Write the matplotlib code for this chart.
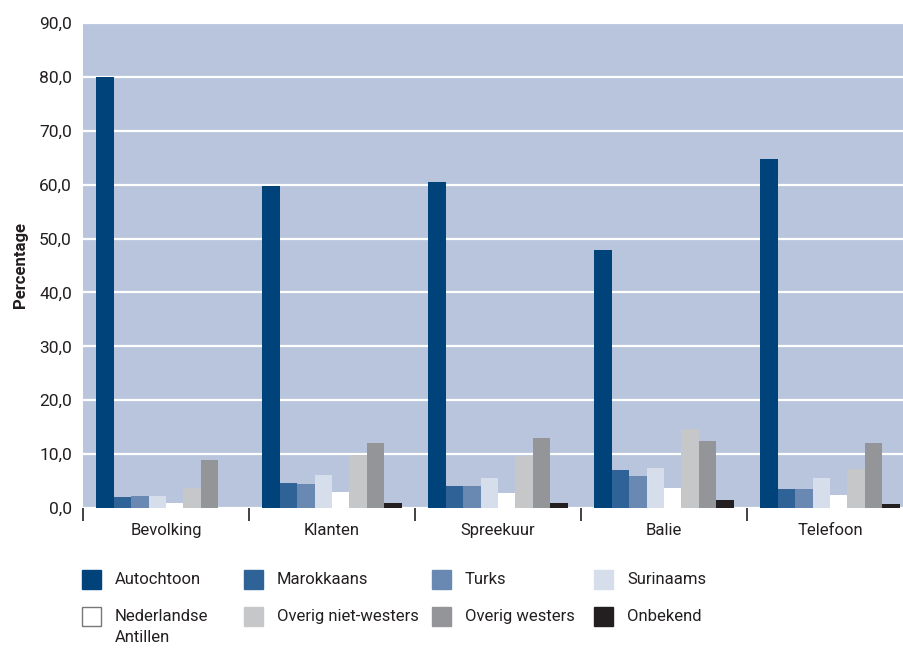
import numpy as np
import matplotlib
matplotlib.use("Agg")
import matplotlib.pyplot as plt
from matplotlib.patches import Rectangle

plt.rcParams['font.family'] = ['Roboto', 'DejaVu Sans']

# ==================== 数据 ====================
groups = ['Bevolking', 'Klanten', 'Spreekuur', 'Balie', 'Telefoon']
series = ['Autochtoon', 'Marokkaans', 'Turks', 'Surinaams',
          'Nederlandse\nAntillen', 'Overig niet-westers', 'Overig westers', 'Onbekend']

autochtoon = [80.0, 59.8, 60.5, 47.8, 64.8]
marokkaans = [2.0, 4.6, 4.0, 7.0, 3.5]
turks = [2.3, 4.4, 4.0, 5.9, 3.5]
surinaams = [2.2, 6.1, 5.5, 7.5, 5.5]
ned_antillen = [0.9, 2.9, 2.7, 3.8, 2.4]
overig_nw = [3.8, 9.8, 9.7, 14.6, 7.2]
overig_w = [9.0, 12.0, 12.9, 12.4, 12.0]
onbekend = [0.0, 0.9, 0.9, 1.4, 0.7]

values = [autochtoon, marokkaans, turks, surinaams, ned_antillen,
          overig_nw, overig_w, onbekend]
colors = ['#00437B', '#2F6296', '#6988B2', '#D6DDEB',
          '#FFFFFF', '#C6C7C9', '#949599', '#231F20']

yticks = np.arange(0, 91, 10)
ytick_labels = [('%.1f' % v).replace('.', ',') for v in yticks]

TEXT = '#231F20'
BG = '#B8C5DC'
FS = 12

# ==================== 绘图 ====================
fig = plt.figure(figsize=(9.04, 6.48), dpi=100)
ax = fig.add_axes([83 / 904, 1 - 508 / 648, 1 - 83 / 904, (508 - 23) / 648])
ax.set_facecolor(BG)

x = np.arange(len(groups))
w = 0.105
start = -0.42
for j, (vals, col) in enumerate(zip(values, colors)):
    ax.bar(x + start + w * (j + 0.5), vals, width=w, color=col,
           linewidth=0, zorder=3)

ax.set_ylim(0, 90)
ax.set_xlim(-0.5, -0.5 + (904 - 83) / 166)
ax.set_yticks(yticks)
ax.set_yticklabels(ytick_labels, fontsize=FS + 0.5, color=TEXT)
ax.tick_params(axis='y', length=0, pad=8)

ax.yaxis.grid(True, color='white', linewidth=1.6)
ax.set_axisbelow(True)
for s in ax.spines.values():
    s.set_visible(False)

# 分组刻度
ax.set_xticks(np.arange(len(groups)) - 0.5)
ax.set_xticklabels([])
ax.tick_params(axis='x', which='major', length=9, width=1.3, color='#333333')
ax.set_xticks(x, minor=True)
ax.set_xticklabels(groups, minor=True, fontsize=FS, color=TEXT)
ax.tick_params(axis='x', which='minor', length=0, pad=11)

ax.set_ylabel('Percentage', fontsize=FS, fontweight='bold', color=TEXT, labelpad=8)

# 图例
W, H = 904, 648
col_x = [82, 244, 432, 594]
row_y = [579.5, 616.5]
sq = 19
for k, (lab, col) in enumerate(zip(series, colors)):
    r, c = divmod(k, 4)
    x0, yc = col_x[c], row_y[r]
    edge = '#777777' if col == '#FFFFFF' else col
    fig.patches.append(Rectangle((x0 / W, 1 - (yc + sq / 2) / H), sq / W, sq / H,
                                 facecolor=col, edgecolor=edge, linewidth=1.0,
                                 transform=fig.transFigure, figure=fig))
    for li, line in enumerate(lab.split('\n')):
        fig.text((x0 + 33) / W, 1 - (yc + li * 21) / H, line, fontsize=FS,
                 color=TEXT, va='center', ha='left')

fig.savefig('out.png', dpi=100)
